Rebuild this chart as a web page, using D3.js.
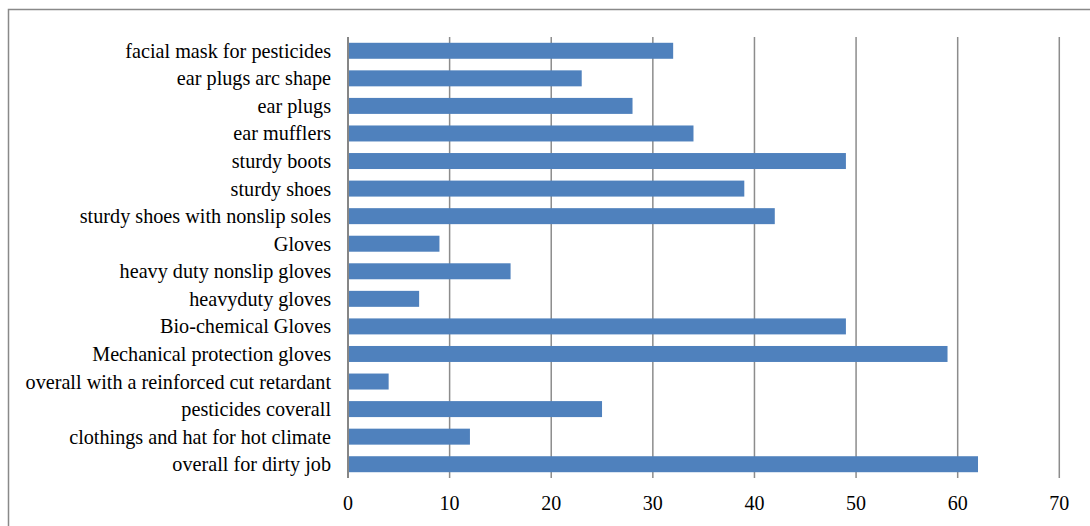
<!DOCTYPE html>
<html>
<head>
<meta charset="utf-8">
<script src="https://cdn.jsdelivr.net/npm/d3@7"></script>
<style>
  html, body { margin: 0; padding: 0; background: #fff; }
</style>
</head>
<body>
<svg id="chart" width="1090" height="526"></svg>
<script>
const categories = [
  "facial mask for pesticides",
  "ear plugs arc shape",
  "ear plugs",
  "ear mufflers",
  "sturdy boots",
  "sturdy shoes",
  "sturdy shoes with nonslip soles",
  "Gloves",
  "heavy duty nonslip gloves",
  "heavyduty gloves",
  "Bio-chemical Gloves",
  "Mechanical protection gloves",
  "overall with a reinforced cut retardant",
  "pesticides coverall",
  "clothings and hat for hot climate",
  "overall for dirty job"
];
const values = [32, 23, 28, 34, 49, 39, 42, 9, 16, 7, 49, 59, 4, 25, 12, 62];
const xTicks = [0, 10, 20, 30, 40, 50, 60, 70];

(function () {
const FONT = "'Liberation Serif', Tinos, 'Times New Roman', Times, 'DejaVu Serif', serif";
const svg = d3.select("#chart");

// outer frame
svg.append("rect")
  .attr("x", 8.5).attr("y", 9.5)
  .attr("width", 1200).attr("height", 600)
  .attr("fill", "none").attr("stroke", "#898989").attr("stroke-width", 1.5);

const pLeft = 348, pRight = 1059.3, pTop = 37, pBottom = 478;

const x = d3.scaleLinear().domain([0, 70]).range([pLeft, pRight]);
const y = d3.scaleBand().domain(categories).range([pTop, pBottom]).paddingInner(0.42).paddingOuter(0.21);

// gridlines
svg.append("g").selectAll("line").data(xTicks.slice(1)).join("line")
  .attr("x1", d => x(d)).attr("x2", d => x(d))
  .attr("y1", pTop).attr("y2", pBottom)
  .attr("stroke", "#8c8c8c").attr("stroke-width", 1.5);

// bars
svg.append("g").selectAll("rect").data(values).join("rect")
  .attr("x", x(0))
  .attr("y", (d, i) => y(categories[i]))
  .attr("width", d => x(d) - x(0))
  .attr("height", y.bandwidth())
  .attr("fill", "#4f81bd");

// y axis line
svg.append("line")
  .attr("x1", x(0)).attr("x2", x(0))
  .attr("y1", pTop).attr("y2", pBottom)
  .attr("stroke", "#868686").attr("stroke-width", 2);

// category labels
svg.append("g").selectAll("text").data(categories).join("text")
  .attr("x", pLeft - 17)
  .attr("y", d => y(d) + y.bandwidth() / 2)
  .attr("text-anchor", "end")
  .attr("dominant-baseline", "central")
  .attr("font-family", FONT)
  .attr("font-size", 20.2)
  .attr("fill", "#000")
  .text(d => d);

// x tick labels
svg.append("g").selectAll("text").data(xTicks).join("text")
  .attr("x", d => x(d))
  .attr("y", 503)
  .attr("text-anchor", "middle")
  .attr("dominant-baseline", "central")
  .attr("font-family", FONT)
  .attr("font-size", 20)
  .attr("fill", "#000")
  .text(d => d);
})();
</script>
</body>
</html>
